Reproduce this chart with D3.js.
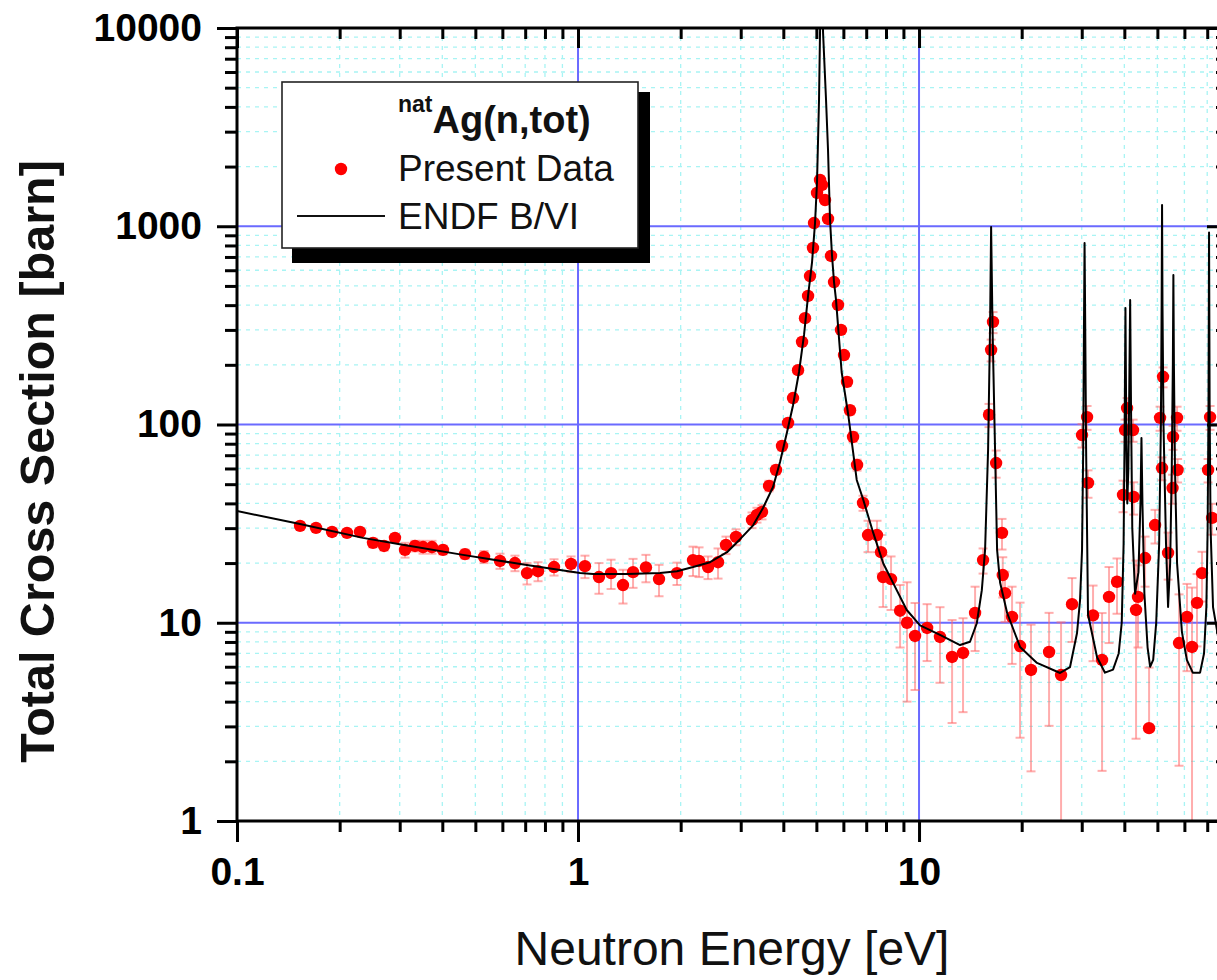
<!DOCTYPE html>
<html>
<head>
<meta charset="utf-8">
<script src="https://cdn.jsdelivr.net/npm/d3@7"></script>
<style>
  html, body { margin: 0; padding: 0; background: #ffffff; overflow: hidden; }
  svg { display: block; }
</style>
</head>
<body>
<svg id="chart" width="1217" height="980"></svg>
<script>
// ENDF/B-VI evaluated total cross section of natural silver (eV, barn)
const endfEnergy = [
  0.1, 0.153, 0.234, 0.3, 0.46, 0.7, 1.014, 1.107, 1.392, 1.74, 1.951, 2.174, 2.439, 2.735,
  2.987, 3.262, 3.487, 3.731, 3.912, 4.102, 4.271, 4.447, 4.6, 4.727, 4.856, 4.955, 5.022,
  5.09, 5.125, 5.19, 5.23, 5.337, 5.409, 5.483, 5.558, 5.633, 5.709, 5.93, 6.2, 6.566, 6.865,
  7.345, 7.857, 8.405, 9.204, 10.07, 11.52, 13.19, 14.11, 14.77, 15.28, 15.62, 15.94, 16.15,
  16.27, 16.43, 16.71, 16.94, 17.29, 18.13, 19.78, 22.18, 25.92, 27.72, 29.06, 29.66, 30.06,
  30.3, 30.45, 30.58, 30.72, 30.9, 31.3, 33.27, 35.1, 37.06, 38.5, 39.3, 39.8, 40.05, 40.3,
  40.55, 40.8, 41.1, 41.35, 41.6, 41.85, 42.2, 43.0, 44.0, 44.6, 44.9, 45.2, 45.8, 46.8, 47.6,
  48.6, 49.6, 50.6, 51.2, 51.45, 51.6, 51.75, 52.1, 53.0, 53.74, 54.5, 55.1, 55.5, 55.7, 55.9,
  56.3, 57.1, 59.0, 61.0, 63.5, 66.7, 68.5, 69.6, 70.2, 70.6, 70.87, 71.15, 71.6, 72.8, 75.8, 80
];
const endfSigma = [
  36.6, 31.5, 26.8, 24.9, 22.0, 19.6, 17.8, 17.6, 17.6, 17.8, 18.2, 19.1, 20.2, 22.7,
  26.4, 31.0, 37.9, 48.4, 64.7, 91.7, 125, 184, 283, 445, 660, 1038, 1672,
  4334, 9546, 30000, 9546, 4334, 2424, 1075, 708, 523, 425, 184, 112, 52.5, 41.6,
  28.3, 19.9, 15.8, 11.6, 9.7, 8.68, 7.72, 8.02, 9.94, 14.6, 23.3, 74.3, 300,
  990, 300, 74, 23.3, 15.9, 11.2, 7.55, 6.27, 5.58, 5.98, 8.88, 13.0, 23.3,
  75, 300, 823, 300, 75, 11, 6.7, 5.6, 5.8, 7.0, 10, 25, 80, 387,
  80, 40, 60, 150, 425, 120, 30, 14, 18, 40, 85.5, 40, 14, 7.5, 6.0,
  6.5, 10, 25, 100, 400, 1280, 400, 100, 25, 12, 20, 60, 200, 568, 200,
  60, 20, 9, 6.5, 5.6, 5.6, 7, 12, 30, 120, 930, 120, 30, 12, 8, 7
];

// Present measurement: energy (eV), total cross section (barn), 1-sigma uncertainty (barn)
const dataEnergy = [
  0.1531, 0.1705, 0.19, 0.2102, 0.2295, 0.2505, 0.2699, 0.2906, 0.311, 0.3327, 0.3512, 0.373,
  0.4018, 0.4663, 0.5301, 0.5905, 0.6533, 0.7087, 0.7634, 0.8504, 0.9539, 1.048, 1.152, 1.25,
  1.355, 1.45, 1.582, 1.728, 1.951, 2.174, 2.264, 2.406, 2.574, 2.716, 2.906, 3.238, 3.348,
  3.464, 3.632, 3.807, 3.965, 4.129, 4.271, 4.418, 4.539, 4.631, 4.727, 4.79, 4.887, 4.921,
  5.022, 5.125, 5.194, 5.301, 5.409, 5.52, 5.633, 5.787, 5.905, 6.026, 6.149, 6.275, 6.405,
  6.58, 6.851, 7.087, 7.53, 7.737, 7.845, 8.278, 8.799, 9.222, 9.734, 10.56, 11.52, 12.5,
  13.46, 14.6, 15.41, 16.04, 16.27, 16.48, 16.83, 17.51, 17.6, 17.87, 18.74, 19.78, 21.3,
  24.06, 26.09, 28.1, 30.06, 31.1, 31.3, 32.38, 34.41, 36.07, 38.07, 39.65, 40.19, 40.74,
  42.43, 42.6, 43.29, 43.87, 46.01, 47.27, 49.22, 50.91, 51.6, 51.95, 53.74, 55.58, 55.4,
  57.1, 57.3, 57.87, 61.07, 63.17, 65.34, 67.59, 70.4, 71.36, 72.33
];
const dataSigma = [
  30.8, 30.1, 28.7, 28.4, 28.7, 25.3, 24.4, 26.8, 23.3, 24.4, 24.1, 24.1,
  23.3, 22.2, 21.5, 20.5, 20.0, 17.8, 18.2, 19.1, 19.8, 19.3, 17.0, 17.8,
  15.5, 18.0, 19.0, 16.6, 17.8, 20.7, 20.5, 19.1, 20.2, 24.7, 27.1, 33.0, 35.0,
  36.2, 49.0, 59.0, 77.9, 101.8, 136, 188, 261, 344, 445, 561, 777, 1038,
  1472, 1711, 1615, 1356, 1088, 708, 523, 401, 300, 224, 164, 118, 86.5,
  62.5, 40.2, 27.7, 27.7, 22.7, 17.0, 16.6, 11.5, 10.0, 8.58, 9.41, 8.48, 6.72,
  7.04, 11.2, 20.7, 112, 238, 329, 63.9, 28.4, 17.4, 14.1, 10.7, 7.63, 5.78,
  7.12, 5.45, 12.4, 88.5, 109, 50.7, 10.9, 6.49, 13.5, 16.1, 44.1, 93.8, 121,
  93.8, 43.1, 11.6, 13.5, 21.2, 2.94, 31.1, 108, 60.3, 174, 22.5, 86.5, 47.8,
  108, 59.0, 7.9, 10.7, 7.55, 12.6, 17.8, 59.0, 109, 33.8
];
const dataError = [
  1.0, 1.0, 1.0, 1.0, 1.0, 1.3, 1.3, 1.2, 2.0, 1.5, 1.8, 1.8,
  1.2, 1.2, 1.5, 1.8, 1.8, 2.2, 2.0, 1.8, 1.8, 2.5, 3.0, 3.0,
  3.0, 3.0, 3.0, 3.0, 2.3, 3.5, 3.5, 2.5, 3.5, 2.5, 2.5, 3.0, 3.0,
  3.0, 3.0, 3.0, 4.0, 5.0, 6.0, 8.0, 10, 12, 15, 20, 25, 30,
  40, 50, 50, 40, 30, 25, 20, 15, 12, 10, 8, 6, 5,
  4, 3.5, 5, 5, 5, 5, 5, 4, 6, 4, 3, 3.5, 3.6,
  3.5, 4, 3, 15, 30, 40, 10, 5, 4, 4, 4.5, 5, 4,
  4.1, 4.6, 4.4, 12, 15, 8, 4.5, 4.7, 5.6, 5, 8, 12, 15,
  12, 8, 9, 6, 6, 3.0, 6, 15, 8, 20, 6, 12, 8,
  15, 8, 6, 5, 7.5, 5, 5, 8, 15, 6
];

// Axis tick values and legend text
const xMajorTicks = [0.1, 1, 10];
const yMajorTicks = [1, 10, 100, 1000, 10000];
const xDomain = [0.1, 80];
const yDomain = [1, 10000];
const legendNuclide = { sup: "nat", main: "Ag(n,tot)" };
const legendSeries = ["Present Data", "ENDF B/VI"];
const xTitle = "Neutron Energy [eV]";
const yTitle = "Total Cross Section [barn]";

const FONT = "'Liberation Sans', Arial, Helvetica, sans-serif";
const frame = { left: 237, top: 28, right: 1227, bottom: 821 };

const svg = d3.select("#chart");

const x = d3.scaleLog().domain(xDomain).range([frame.left, frame.right]);
const y = d3.scaleLog().domain(yDomain).range([frame.bottom, frame.top]);

function minorTicks(domain) {
  const out = [];
  for (let d = domain[0]; d < domain[1]; d *= 10) {
    for (let m = 2; m <= 9; m++) {
      const v = +(d * m).toPrecision(6);
      if (v <= domain[1] * 1.0001) out.push(v);
    }
  }
  return out;
}
const xMinor = minorTicks(xDomain);
const yMinor = minorTicks(yDomain);

svg.append("defs").append("clipPath").attr("id", "plot-clip")
  .append("rect")
  .attr("x", frame.left).attr("y", frame.top)
  .attr("width", frame.right - frame.left).attr("height", frame.bottom - frame.top);

// --- grid ---
const grid = svg.append("g").attr("class", "grid");
grid.selectAll("line.vminor").data(xMinor).join("line")
  .attr("x1", d => x(d)).attr("x2", d => x(d))
  .attr("y1", frame.top).attr("y2", frame.bottom)
  .attr("stroke", "#a8f4f4").attr("stroke-width", 1.3).attr("stroke-dasharray", "4,5");
grid.selectAll("line.hminor").data(yMinor).join("line")
  .attr("x1", frame.left).attr("x2", frame.right)
  .attr("y1", d => y(d)).attr("y2", d => y(d))
  .attr("stroke", "#a8f4f4").attr("stroke-width", 1.3).attr("stroke-dasharray", "4,5");
grid.selectAll("line.vmajor").data(xMajorTicks.slice(1)).join("line")
  .attr("x1", d => x(d)).attr("x2", d => x(d))
  .attr("y1", frame.top).attr("y2", frame.bottom)
  .attr("stroke", "#6a6aff").attr("stroke-width", 2);
grid.selectAll("line.hmajor").data(yMajorTicks.slice(1, -1)).join("line")
  .attr("x1", frame.left).attr("x2", frame.right)
  .attr("y1", d => y(d)).attr("y2", d => y(d))
  .attr("stroke", "#6a6aff").attr("stroke-width", 2);

// --- measured points with error bars ---
const pts = dataEnergy.map((e, i) => ({ e, s: dataSigma[i], err: dataError[i] }));
const plotG = svg.append("g").attr("clip-path", "url(#plot-clip)");

const errG = plotG.append("g").attr("class", "errors")
  .attr("stroke", "#ff6a6a").attr("stroke-opacity", 0.55).attr("stroke-width", 2);
const cap = 4.5;
pts.forEach(p => {
  const px = x(p.e);
  const yTop = y(p.s + p.err);
  const lowVal = p.s - p.err;
  const yBot = lowVal > 0 ? y(lowVal) : y(p.s);
  errG.append("line").attr("x1", px).attr("x2", px).attr("y1", yTop).attr("y2", yBot);
  errG.append("line").attr("x1", px - cap).attr("x2", px + cap).attr("y1", yTop).attr("y2", yTop);
  if (lowVal > 0) {
    errG.append("line").attr("x1", px - cap).attr("x2", px + cap).attr("y1", yBot).attr("y2", yBot);
  }
});

plotG.append("g").attr("class", "points")
  .selectAll("circle").data(pts).join("circle")
  .attr("cx", d => x(d.e)).attr("cy", d => y(d.s)).attr("r", 6.2)
  .attr("fill", "#ff0000");

// --- evaluated curve ---
const curve = endfEnergy.map((e, i) => [e, endfSigma[i]]);
plotG.append("path")
  .datum(curve)
  .attr("fill", "none").attr("stroke", "#000").attr("stroke-width", 2)
  .attr("stroke-linejoin", "round")
  .attr("d", d3.line().x(d => x(d[0])).y(d => y(d[1])));

// --- axes ---
const fmt = d => String(d);
function styleAxis(g, labels) {
  g.select(".domain").remove();
  g.selectAll(".tick line").attr("stroke", "#000").attr("stroke-width", 3);
  g.selectAll(".tick text")
    .attr("fill", "#000")
    .attr("font-family", FONT).attr("font-size", 39).attr("font-weight", "bold");
  if (!labels) g.selectAll(".tick text").remove();
}

// bottom
svg.append("g").attr("transform", `translate(0,${frame.bottom})`)
  .call(d3.axisBottom(x).tickValues(xMajorTicks).tickFormat(fmt).tickSize(21).tickPadding(15))
  .call(g => styleAxis(g, true));
svg.append("g").attr("transform", `translate(0,${frame.bottom})`)
  .call(d3.axisBottom(x).tickValues(xMinor).tickFormat("").tickSize(11))
  .call(g => styleAxis(g, false));
// top (inward ticks)
svg.append("g").attr("transform", `translate(0,${frame.top})`)
  .call(d3.axisTop(x).tickValues(xMajorTicks).tickFormat("").tickSize(-20))
  .call(g => styleAxis(g, false));
svg.append("g").attr("transform", `translate(0,${frame.top})`)
  .call(d3.axisTop(x).tickValues(xMinor).tickFormat("").tickSize(-11))
  .call(g => styleAxis(g, false));
// left
svg.append("g").attr("transform", `translate(${frame.left},0)`)
  .call(d3.axisLeft(y).tickValues(yMajorTicks).tickFormat(fmt).tickSize(20).tickPadding(15))
  .call(g => styleAxis(g, true));
svg.append("g").attr("transform", `translate(${frame.left},0)`)
  .call(d3.axisLeft(y).tickValues(yMinor).tickFormat("").tickSize(12))
  .call(g => styleAxis(g, false));
// right (inward ticks)
svg.append("g").attr("transform", `translate(${frame.right},0)`)
  .call(d3.axisRight(y).tickValues(yMajorTicks).tickFormat("").tickSize(-20))
  .call(g => styleAxis(g, false));
svg.append("g").attr("transform", `translate(${frame.right},0)`)
  .call(d3.axisRight(y).tickValues(yMinor).tickFormat("").tickSize(-11))
  .call(g => styleAxis(g, false));

// frame
svg.append("rect")
  .attr("x", frame.left).attr("y", frame.top)
  .attr("width", frame.right - frame.left).attr("height", frame.bottom - frame.top)
  .attr("fill", "none").attr("stroke", "#000").attr("stroke-width", 3);

// --- axis titles ---
svg.append("text")
  .attr("x", (frame.left + frame.right) / 2).attr("y", 965)
  .attr("text-anchor", "middle")
  .attr("font-family", FONT).attr("font-size", 48).attr("fill", "#111")
  .text(xTitle);
svg.append("text")
  .attr("transform", `translate(54,${(frame.top + frame.bottom) / 2 + 37}) rotate(-90)`)
  .attr("text-anchor", "middle")
  .attr("font-family", FONT).attr("font-size", 48.5).attr("font-weight", "bold").attr("fill", "#111")
  .text(yTitle);

// --- legend ---
const lg = svg.append("g").attr("class", "legend");
lg.append("rect").attr("x", 292).attr("y", 92).attr("width", 358).attr("height", 171).attr("fill", "#000");
lg.append("rect").attr("x", 282).attr("y", 82).attr("width", 356).attr("height", 166)
  .attr("fill", "#fff").attr("stroke", "#222").attr("stroke-width", 1.6);
const title = lg.append("text").attr("x", 398).attr("y", 133)
  .attr("font-family", FONT).attr("font-weight", "bold").attr("fill", "#111");
title.append("tspan").attr("font-size", 23).attr("dy", -21).text(legendNuclide.sup);
title.append("tspan").attr("font-size", 38).attr("dy", 21).text(legendNuclide.main);
lg.append("circle").attr("cx", 341).attr("cy", 169).attr("r", 6.2).attr("fill", "#ff0000");
lg.append("line").attr("x1", 297).attr("x2", 385).attr("y1", 216).attr("y2", 216)
  .attr("stroke", "#111").attr("stroke-width", 2);
lg.selectAll("text.series").data(legendSeries).join("text")
  .attr("class", "series")
  .attr("x", 398).attr("y", (d, i) => 181 + i * 48)
  .attr("font-family", FONT).attr("font-size", 37).attr("fill", "#111")
  .text(d => d);
</script>
</body>
</html>
